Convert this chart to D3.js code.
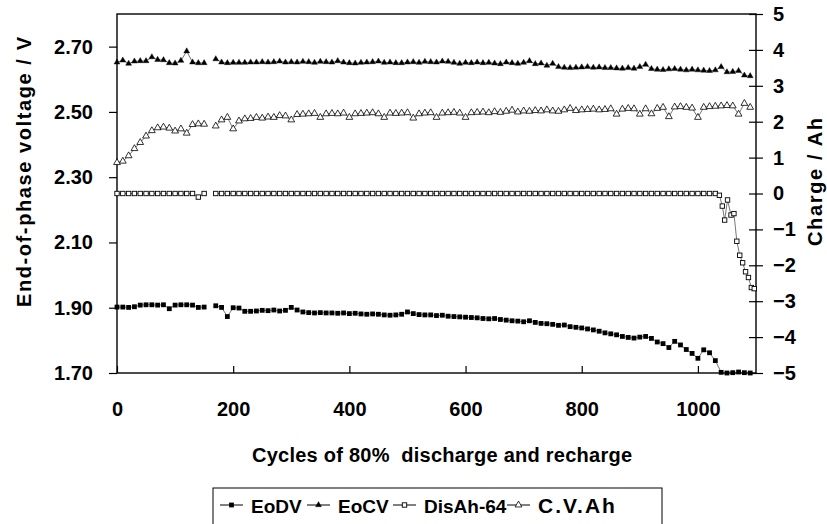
<!DOCTYPE html>
<html>
<head>
<meta charset="utf-8">
<script src="https://cdn.jsdelivr.net/npm/d3@7"></script>
<style>
  body { margin: 0; background: #fff; }
  text { font-family: "Liberation Sans", Arial, sans-serif; font-weight: bold; fill: #000; }
</style>
</head>
<body>
<div id="chart"></div>
<script>
// cycle numbers shared by the series (null value = gap around cycle 160)
var cycles = [0,10,20,30,40,50,60,70,80,90,100,110,120,130,140,150,160,
  170,180,190,200,210,220,230,240,250,260,270,280,290,300,310,320,330,340,350,
  360,370,380,390,400,410,420,430,440,450,460,470,480,490,500,510,520,530,540,
  550,560,570,580,590,600,610,620,630,640,650,660,670,680,690,700,710,720,730,
  740,750,760,770,780,790,800,810,820,830,840,850,860,870,880,890,900,910,920,
  930,940,950,960,970,980,990,1000,1010,1020,1030,1040,1050,1060,1070,1080,1090];

// End of discharge voltage (V, left axis)
var eodv = [1.902,1.902,1.901,1.903,1.908,1.909,1.909,1.908,1.909,1.897,1.908,1.909,1.909,1.908,1.901,1.902,null,
  1.906,1.901,1.873,1.900,1.899,1.889,1.889,1.890,1.892,1.891,1.893,1.890,1.892,1.901,1.893,1.887,1.885,1.884,1.885,
  1.884,1.884,1.883,1.884,1.882,1.883,1.881,1.880,1.881,1.880,1.878,1.877,1.878,1.880,1.887,1.882,1.879,1.878,1.878,
  1.876,1.877,1.874,1.873,1.872,1.871,1.870,1.869,1.867,1.866,1.867,1.864,1.862,1.860,1.859,1.857,1.860,1.855,1.852,
  1.851,1.849,1.846,1.847,1.842,1.840,1.838,1.835,1.832,1.828,1.823,1.820,1.817,1.812,1.809,1.807,1.810,1.812,1.806,
  1.795,1.790,1.778,1.797,1.786,1.772,1.760,1.745,1.771,1.762,1.738,1.702,1.700,1.701,1.703,1.701,1.700];

// End of charge voltage (V, left axis)
var eocv = [2.652,2.658,2.648,2.655,2.656,2.656,2.668,2.660,2.659,2.650,2.649,2.657,2.686,2.652,2.650,2.650,null,
  2.662,2.652,2.650,2.651,2.651,2.651,2.652,2.652,2.653,2.652,2.653,2.655,2.652,2.653,2.652,2.654,2.653,2.651,2.654,
  2.653,2.652,2.656,2.652,2.650,2.649,2.651,2.652,2.653,2.655,2.651,2.652,2.650,2.650,2.652,2.653,2.651,2.654,2.653,
  2.652,2.655,2.654,2.651,2.648,2.651,2.650,2.652,2.650,2.651,2.649,2.647,2.652,2.650,2.648,2.651,2.656,2.647,2.649,
  2.642,2.648,2.638,2.636,2.635,2.636,2.637,2.638,2.636,2.637,2.635,2.635,2.634,2.633,2.635,2.633,2.638,2.645,2.632,
  2.630,2.629,2.631,2.632,2.630,2.628,2.630,2.628,2.627,2.626,2.628,2.638,2.622,2.623,2.626,2.612,2.610];

// Discharge Ah minus 64 (Ah, right axis), grid part up to cycle 1030
var disAh = [0,0,0,0,0,0,0,0,0,0,0,0,0,0,-0.1,0,null,
  0,0,0,0,0,0,0,0,0,0,0,0,0,0,0,0,0,0,0,
  0,0,0,0,0,0,0,0,0,0,0,0,0,0,0,0,0,0,0,
  0,0,0,0,0,0,0,0,0,0,0,0,0,0,0,0,0,0,0,
  0,0,0,0,0,0,0,0,0,0,0,0,0,0,0,0,0,0,0,
  0,0,0,0,0,0,0,0,0,0,0];
// its steep tail at the end of life
var disAhTailCycles = [1037,1042,1046,1051,1057,1062,1067,1072,1077,1082,1087,1092,1097];
var disAhTail = [-0.05,-0.35,-0.74,-0.18,-0.60,-0.56,-1.33,-1.72,-1.93,-2.18,-2.34,-2.62,-2.65];

// Constant voltage charge Ah (right axis)
var cvAh = [0.86,0.90,1.05,1.25,1.42,1.60,1.75,1.83,1.85,1.82,1.74,1.80,1.68,1.92,1.94,1.93,null,
  1.88,2.05,2.12,1.80,2.02,2.08,2.09,2.12,2.10,2.13,2.12,2.17,2.16,2.05,2.20,2.21,2.22,2.23,2.12,
  2.22,2.23,2.22,2.24,2.12,2.22,2.23,2.24,2.25,2.22,2.12,2.24,2.23,2.24,2.25,2.10,2.22,2.24,2.25,
  2.12,2.24,2.25,2.26,2.24,2.12,2.25,2.26,2.27,2.25,2.28,2.26,2.29,2.32,2.27,2.30,2.29,2.31,2.30,
  2.33,2.30,2.29,2.33,2.37,2.31,2.33,2.34,2.35,2.33,2.34,2.36,2.21,2.35,2.37,2.36,2.21,2.36,2.22,
  2.37,2.40,2.14,2.41,2.42,2.40,2.38,2.12,2.40,2.42,2.43,2.44,2.45,2.44,2.21,2.51,2.40];

var xTicks = [0,200,400,600,800,1000];
var leftTicks = [1.70,1.90,2.10,2.30,2.50,2.70];
var rightTicks = [-5,-4,-3,-2,-1,0,1,2,3,4,5];

var width = 827, height = 524;
var plotL = 117, plotR = 756, plotT = 14, plotB = 373;

var svg = d3.select('#chart').append('svg')
  .attr('width', width).attr('height', height);

var x = d3.scaleLinear().domain([0, 1100]).range([plotL, plotR]);
var yL = d3.scaleLinear().domain([1.7, 2.8]).range([plotB, plotT]);
var yR = d3.scaleLinear().domain([-5, 5]).range([plotB, plotT]);

function zip(xs, ys) {
  return ys.map(function(v, i) { return { c: xs[i], v: v }; });
}

var eodvPts = zip(cycles, eodv);
var eocvPts = zip(cycles, eocv);
var disPts = zip(cycles, disAh).concat(zip(disAhTailCycles, disAhTail));
var cvPts = zip(cycles, cvAh);

// axes
var gx = svg.append('g').attr('transform', 'translate(0,' + plotB + ')')
  .call(d3.axisBottom(x).tickValues(xTicks).tickSizeInner(-7).tickSizeOuter(0).tickPadding(29).tickFormat(d3.format('d')));
var gl = svg.append('g').attr('transform', 'translate(' + plotL + ',0)')
  .call(d3.axisLeft(yL).tickValues(leftTicks).tickSizeInner(8).tickSizeOuter(0).tickPadding(16).tickFormat(d3.format('.2f')));
var gr = svg.append('g').attr('transform', 'translate(' + plotR + ',0)')
  .call(d3.axisRight(yR).tickValues(rightTicks).tickSizeInner(7).tickSizeOuter(0).tickPadding(10).tickFormat(d3.format('d')));
gr.selectAll('.tick line').attr('x1', -7);
gr.selectAll('.tick text').attr('x', 17);

[gx, gl, gr].forEach(function(g) {
  g.select('.domain').remove();
  g.selectAll('.tick line').attr('stroke', '#000').attr('stroke-width', 1.2);
  g.selectAll('.tick text').style('font-size', '20px');
});
gx.selectAll('.tick text').attr('dy', '0.71em');

svg.append('rect')
  .attr('x', plotL).attr('y', plotT)
  .attr('width', plotR - plotL).attr('height', plotB - plotT)
  .attr('fill', 'none').attr('stroke', '#000').attr('stroke-width', 1.4);

// axis titles
svg.append('text')
  .attr('transform', 'translate(31,172) rotate(-90)')
  .attr('text-anchor', 'middle').style('font-size', '20px')
  .attr('textLength', 270).attr('lengthAdjust', 'spacing')
  .text('End-of-phase voltage / V');
svg.append('text')
  .attr('transform', 'translate(822,182) rotate(-90)')
  .attr('text-anchor', 'middle').style('font-size', '20px')
  .attr('textLength', 128).attr('lengthAdjust', 'spacing')
  .text('Charge / Ah');
svg.append('text')
  .attr('x', 442).attr('y', 462)
  .attr('text-anchor', 'middle').style('font-size', '20px')
  .style('white-space', 'pre')
  .attr('textLength', 380).attr('lengthAdjust', 'spacing')
  .text('Cycles of 80%  discharge and recharge');

// series lines
function lineFor(y) {
  return d3.line()
    .defined(function(d) { return d.v != null; })
    .x(function(d) { return x(d.c); })
    .y(function(d) { return y(d.v); });
}

var series = [
  { pts: eodvPts, y: yL, mark: 'square', fill: '#000' },
  { pts: eocvPts, y: yL, mark: 'triangle', fill: '#000' },
  { pts: disPts, y: yR, mark: 'square', fill: '#fff' },
  { pts: cvPts, y: yR, mark: 'triangle', fill: '#fff' }
];

series.forEach(function(s) {
  svg.append('path')
    .datum(s.pts)
    .attr('d', lineFor(s.y))
    .attr('fill', 'none')
    .attr('stroke', '#555')
    .attr('stroke-width', 0.8);
});

var tri = d3.symbol().type(d3.symbolTriangle);

// draw one marker per point at (px(d), py(d))
function drawMarks(g, pts, px, py, mark, fill) {
  var sel = g.selectAll('.m').data(pts).enter();
  if (mark === 'square') {
    var sz = fill === '#000' ? 4.8 : 4.4;
    sel.append('rect')
      .attr('x', function(d) { return px(d) - sz / 2; })
      .attr('y', function(d) { return py(d) - sz / 2; })
      .attr('width', sz).attr('height', sz)
      .attr('fill', fill)
      .attr('stroke', '#000').attr('stroke-width', fill === '#000' ? 0 : 0.9);
  } else {
    sel.append('path')
      .attr('d', tri.size(fill === '#000' ? 15 : 20)())
      .attr('transform', function(d) { return 'translate(' + px(d) + ',' + py(d) + ')'; })
      .attr('fill', fill)
      .attr('stroke', '#000').attr('stroke-width', fill === '#000' ? 0.4 : 0.8);
  }
}

series.forEach(function(s) {
  var pts = s.pts.filter(function(d) { return d.v != null; });
  drawMarks(svg.append('g'), pts,
    function(d) { return x(d.c); },
    function(d) { return s.y(d.v); },
    s.mark, s.fill);
});

// legend
var legendNames = ['EoDV', 'EoCV', 'DisAh-64', 'C.V.Ah'];
var legendX = [220, 307, 393, 507];
var lg = svg.append('g');
lg.append('rect')
  .attr('x', 213).attr('y', 488).attr('width', 449).attr('height', 50)
  .attr('fill', 'none').attr('stroke', '#000').attr('stroke-width', 1);

legendNames.forEach(function(name, i) {
  var s = series[i];
  var lx = legendX[i], ly = 505;
  lg.append('line')
    .attr('x1', lx).attr('x2', lx + 23).attr('y1', ly).attr('y2', ly)
    .attr('stroke', '#000').attr('stroke-width', 1);
  drawMarks(lg.append('g'), [0],
    function() { return lx + 11.5; }, function() { return ly; },
    s.mark, s.fill);
  lg.append('text')
    .attr('x', lx + 31).attr('y', 513)
    .style('font-size', i === 3 ? '21px' : '19px')
    .style('letter-spacing', i === 3 ? '2px' : '0px')
    .text(name);
});
</script>
</body>
</html>
